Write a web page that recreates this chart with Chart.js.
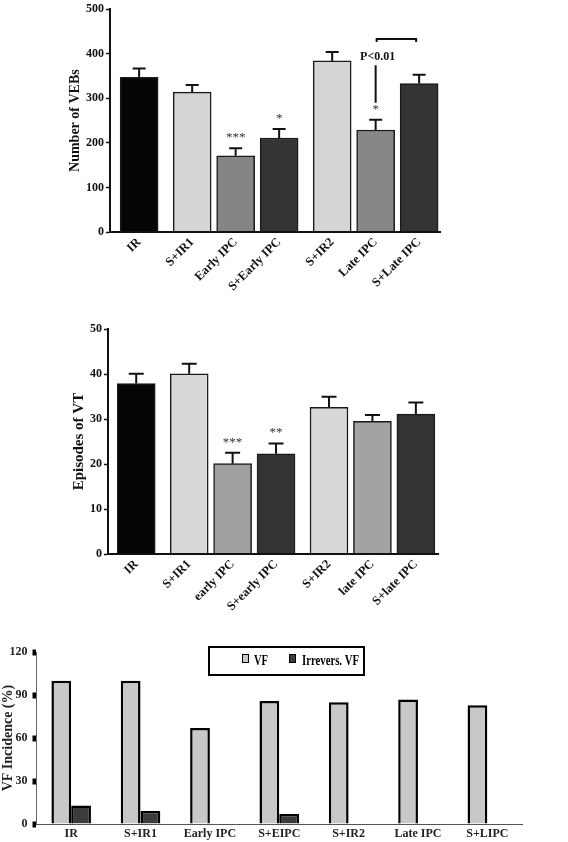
<!DOCTYPE html>
<html>
<head>
<meta charset="utf-8">
<script src="https://cdn.jsdelivr.net/npm/chart.js@4/dist/chart.umd.min.js"></script>
<style>
  body { margin: 0; background: #fff; }
  .box { position: absolute; }
</style>
</head>
<body>
<div class="box" style="left:60px;top:0px;"><canvas id="vebChart" width="390" height="300"></canvas></div>
<div class="box" style="left:58px;top:320px;"><canvas id="vtChart" width="390" height="304"></canvas></div>
<div class="box" style="left:0px;top:640px;"><canvas id="vfChart" width="568" height="202"></canvas></div>
<script>
// --- data ---
const vebLabels = ['IR', 'S+IR1', 'Early IPC', 'S+Early IPC', 'S+IR2', 'Late IPC', 'S+Late IPC'];
const vebMeans = [347, 314, 171, 211, 384, 229, 333];
const vebErrors = [20, 16, 17, 20, 20, 23, 20];
const vebStars = ['', '', '***', '*', '', '*', ''];

const vtLabels = ['IR', 'S+IR1', 'early IPC', 'S+early IPC', 'S+IR2', 'late IPC', 'S+late IPC'];
const vtMeans = [37.9, 40.1, 20.1, 22.3, 32.6, 29.5, 31.1];
const vtErrors = [2.2, 2.2, 2.4, 2.3, 2.4, 1.4, 2.6];
const vtStars = ['', '', '***', '**', '', '', ''];

const vfLabels = ['IR', 'S+IR1', 'Early IPC', 'S+EIPC', 'S+IR2', 'Late IPC', 'S+LIPC'];
const vfIncidence = [100, 100, 67, 86, 85, 87, 83];
const irrVfIncidence = [13, 9, 0, 7, 0, 0, 0];

// bars are grouped: IR | S+IR1, early, S+early | S+IR2, late, S+late
const groupOf = [0, 1, 1, 1, 2, 2, 2];
const GROUP_GAP = 0.22;
const slotX = i => i + GROUP_GAP * groupOf[i];

const SERIF = "'Liberation Serif', 'Times New Roman', serif";
const INK = '#111';

const vebColors = ['#050505', '#d5d5d5', '#858585', '#343434', '#d5d5d5', '#878787', '#343434'];
const vtColors = ['#050505', '#d8d8d8', '#a0a0a0', '#333333', '#d8d8d8', '#a3a3a3', '#333333'];

// error bars (upper half only) + significance stars
function errorBarPlugin(means, errors, stars, capWidth) {
  return {
    id: 'errorBars',
    afterDatasetsDraw(chart) {
      const ctx = chart.ctx;
      const yScale = chart.scales.y;
      const meta = chart.getDatasetMeta(0);
      ctx.save();
      ctx.strokeStyle = INK;
      ctx.lineWidth = 2;
      meta.data.forEach((bar, i) => {
        const top = yScale.getPixelForValue(means[i] + errors[i]);
        ctx.beginPath();
        ctx.moveTo(bar.x, bar.y);
        ctx.lineTo(bar.x, top);
        ctx.moveTo(bar.x - capWidth / 2, top);
        ctx.lineTo(bar.x + capWidth / 2, top);
        ctx.stroke();
        if (stars[i]) {
          ctx.fillStyle = '#333';
          ctx.font = '13px ' + SERIF;
          ctx.textAlign = 'center';
          ctx.textBaseline = 'alphabetic';
          ctx.fillText(stars[i], bar.x, top - 7);
        }
      });
      ctx.restore();
    }
  };
}

// Late IPC vs S+Late IPC comparison mark
const pText = 'P<0.01';
const pLineFrom = 290, pLineTo = 374, pTextAt = 392, pBracketAt = 433;
const pValuePlugin = {
  id: 'pValue',
  afterDatasetsDraw(chart) {
    const ctx = chart.ctx;
    const y = chart.scales.y;
    const meta = chart.getDatasetMeta(0);
    const a = meta.data[5].x, b = meta.data[6].x;
    ctx.save();
    ctx.strokeStyle = INK;
    ctx.lineWidth = 2;
    ctx.beginPath();
    ctx.moveTo(a, y.getPixelForValue(pLineFrom));
    ctx.lineTo(a, y.getPixelForValue(pLineTo));
    const by = y.getPixelForValue(pBracketAt);
    ctx.moveTo(a + 1, by + 3);
    ctx.lineTo(a + 1, by);
    ctx.lineTo(b - 3, by);
    ctx.lineTo(b - 3, by + 3);
    ctx.stroke();
    ctx.fillStyle = INK;
    ctx.font = 'bold 12px ' + SERIF;
    ctx.textAlign = 'center';
    ctx.textBaseline = 'middle';
    ctx.fillText(pText, a + 2, y.getPixelForValue(pTextAt));
    ctx.restore();
  }
};

function meanBarChart(id, labels, means, colors, opts) {
  return new Chart(document.getElementById(id), {
    type: 'bar',
    data: {
      datasets: [{
        data: means.map((v, i) => ({ x: slotX(i), y: v })),
        backgroundColor: colors,
        borderColor: '#1a1a1a',
        borderWidth: 1.5,
        barThickness: 38
      }]
    },
    options: {
      responsive: false,
      animation: false,
      layout: { padding: { top: 0, right: 10, left: 0, bottom: 0 } },
      plugins: { legend: { display: false }, tooltip: { enabled: false } },
      scales: {
        x: {
          type: 'linear',
          offset: false,
          min: opts.xMin,
          max: opts.xMax,
          afterBuildTicks: s => { s.ticks = labels.map((_, i) => ({ value: slotX(i) })); },
          ticks: {
            callback: (v, i) => labels[i],
            autoSkip: false,
            minRotation: 45,
            maxRotation: 45,
            padding: 3,
            color: INK,
            font: { family: SERIF, size: 12.5, weight: 'bold' }
          },
          grid: { display: false, drawTicks: false, tickLength: 0 },
          border: { color: INK, width: 2, z: 1 },
          afterFit: s => { s.height = opts.xHeight; }
        },
        y: {
          min: 0,
          max: opts.yMax,
          ticks: {
            stepSize: opts.yStep,
            padding: 2,
            color: INK,
            font: { family: SERIF, size: 12, weight: 'bold' }
          },
          grid: { drawOnChartArea: false, tickLength: 4, tickWidth: 1.5, color: INK },
          border: { color: INK, width: 2, z: 1 },
          title: {
            display: true,
            text: opts.title,
            color: INK,
            padding: { top: opts.titlePad, bottom: 0 },
            font: { family: SERIF, size: opts.titleSize, weight: 'bold' }
          },
          afterFit: s => { s.width = 50; }
        }
      }
    },
    plugins: opts.plugins
  });
}

meanBarChart('vebChart', vebLabels, vebMeans, vebColors, {
  xMin: -0.67, xMax: 6.92, xHeight: 68, yMax: 500, yStep: 100,
  title: 'Number of VEBs', titleSize: 14, titlePad: 7,
  plugins: [errorBarPlugin(vebMeans, vebErrors, vebStars, 13), pValuePlugin]
});

meanBarChart('vtChart', vtLabels, vtMeans, vtColors, {
  xMin: -0.65, xMax: 6.95, xHeight: 70, yMax: 50, yStep: 10,
  title: 'Episodes of VT', titleSize: 15, titlePad: 12,
  plugins: [errorBarPlugin(vtMeans, vtErrors, vtStars, 15)]
});

// legend box drawn over the plot area, as in the figure
const boxLegendPlugin = {
  id: 'boxLegend',
  afterDraw(chart) {
    const ctx = chart.ctx;
    const ds = chart.data.datasets;
    ctx.save();
    ctx.strokeStyle = '#000';
    ctx.lineWidth = 2;
    ctx.strokeRect(209, 7, 155, 28);
    const items = [
      { x: 242, tx: 254, w: 14 },
      { x: 289, tx: 302, w: 57 }
    ];
    ctx.font = 'bold 15px ' + SERIF;
    ctx.textBaseline = 'alphabetic';
    ctx.textAlign = 'left';
    items.forEach((it, i) => {
      ctx.fillStyle = ds[i].backgroundColor;
      ctx.fillRect(it.x, 14, 6, 8);
      ctx.lineWidth = 1;
      ctx.strokeRect(it.x + 0.5, 14.5, 6, 8);
      ctx.fillStyle = '#000';
      ctx.fillText(ds[i].label, it.tx, 25, it.w);
    });
    ctx.restore();
  }
};

new Chart(document.getElementById('vfChart'), {
  type: 'bar',
  data: {
    labels: vfLabels,
    datasets: [
      { label: 'VF', data: vfIncidence, backgroundColor: '#c8c8c8', borderColor: '#000', borderWidth: 2.5 },
      { label: 'Irrevers. VF', data: irrVfIncidence, backgroundColor: '#3c3c3c', borderColor: '#000', borderWidth: 2.5 }
    ]
  },
  options: {
    responsive: false,
    animation: false,
    categoryPercentage: 0.57,
    barPercentage: 1,
    layout: { padding: { top: 9, right: 46, left: 0, bottom: 0 } },
    plugins: { legend: { display: false }, tooltip: { enabled: false } },
    scales: {
      x: {
        ticks: { padding: 3, color: '#222', font: { family: SERIF, size: 12, weight: 'bold' } },
        grid: { display: false, drawTicks: false, tickLength: 0 },
        border: { color: '#555', width: 1, z: 1 },
        afterFit: s => { s.height = 18; }
      },
      y: {
        min: 0,
        max: 120,
        ticks: { stepSize: 30, padding: 5, color: '#222', font: { family: SERIF, size: 12, weight: 'bold' } },
        grid: { drawOnChartArea: false, tickLength: 4, tickWidth: 6, color: '#000' },
        border: { color: '#666', width: 1 },
        title: {
          display: true,
          text: 'VF Incidence (%)',
          color: '#222',
          padding: 0,
          font: { family: SERIF, size: 14, weight: 'bold' }
        },
        afterFit: s => { s.width = 36.5; }
      }
    }
  },
  plugins: [boxLegendPlugin]
});
</script>
</body>
</html>
